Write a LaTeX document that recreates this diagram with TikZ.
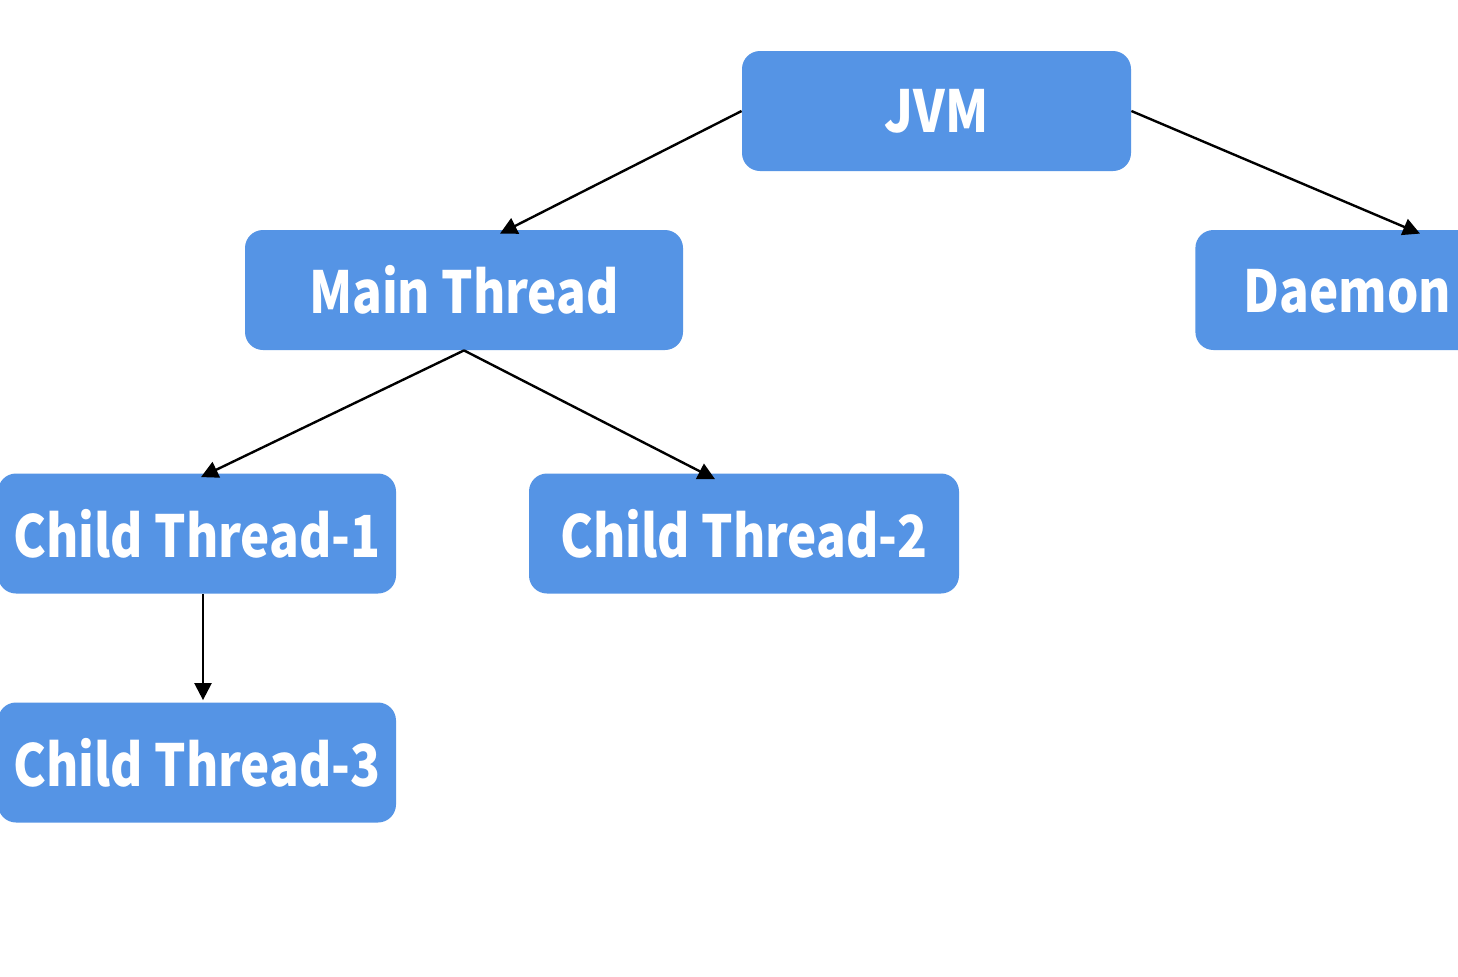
\documentclass[tikz,border=0pt]{standalone}
\usepackage{fontspec}
\newfontfamily\lab{Noto Sans CJK KR}[FakeStretch=0.85]
\usetikzlibrary{arrows.meta,calc}
\definecolor{boxblue}{RGB}{85,148,229}
\tikzset{
  box/.style={fill=boxblue, draw=none, rounded corners=9pt, minimum height=60pt,
    inner sep=0pt, text=white, font=\lab\bfseries\fontsize{29}{34}\selectfont},
  conn/.style={draw=black, line width=1.2pt, -{Triangle[length=8.5pt,width=8.5pt]}}
}
\begin{document}
\begin{tikzpicture}[x=0.5pt,y=-0.5pt]
\useasboundingbox (0,0) rectangle (1458,976);
\clip (0,0) rectangle (1458,976);
\fill[white] (0,0) rectangle (1458,976);
\node[box, minimum width=194.5pt] (jvm) at (936.5,111) {JVM};
\node[box, minimum width=219pt] (main) at (464,290) {Main Thread};
\node[box, anchor=west, text width=240pt, align=left, inner xsep=24pt] (daemon) at (1195,290) {Daemon Thread};
\node[box, minimum width=199pt] (ct1) at (197,533.5) {Child Thread-1};
\node[box, minimum width=215pt] (ct2) at (744,533.5) {Child Thread-2};
\node[box, minimum width=199pt] (ct3) at (197,762.5) {Child Thread-3};
\draw[conn] (jvm.west) -- ($(main.north)+(36,4)$);
\draw[conn] (jvm.east) -- ($(daemon.north west)+(225,4)$);
\draw[conn] (main.south) -- ($(ct1.north)+(4,4)$);
\draw[conn] (main.south) -- ($(ct2.north)+(-29,6)$);
\draw[conn] ($(ct1.south)+(6,0)$) -- ($(ct3.north)+(6,-2)$);
\end{tikzpicture}
\end{document}
